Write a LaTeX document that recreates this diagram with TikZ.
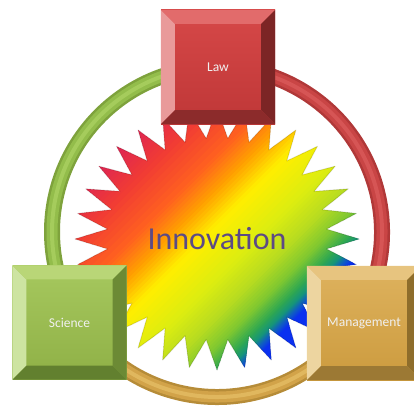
\documentclass[tikz,border=0pt]{standalone}
\usepackage{fontspec}
\setmainfont{Carlito}
\usepackage{tikz}
\usetikzlibrary{positioning}

\definecolor{lawFT}{HTML}{D64848}
\definecolor{lawFB}{HTML}{BF3737}
\definecolor{lawL}{HTML}{E99A9A}
\definecolor{lawT}{HTML}{E26B6B}
\definecolor{lawR}{HTML}{7C2525}
\definecolor{lawB}{HTML}{8C2B2B}
\definecolor{sciFT}{HTML}{A6C85E}
\definecolor{sciFB}{HTML}{8FB046}
\definecolor{sciL}{HTML}{CDE4A1}
\definecolor{sciT}{HTML}{B9D677}
\definecolor{sciR}{HTML}{6C8A35}
\definecolor{sciB}{HTML}{62802F}
\definecolor{mgtFT}{HTML}{DEB25E}
\definecolor{mgtFB}{HTML}{CC9B3E}
\definecolor{mgtL}{HTML}{EDD5A0}
\definecolor{mgtT}{HTML}{E7C47F}
\definecolor{mgtR}{HTML}{8E6D2B}
\definecolor{mgtB}{HTML}{9C7934}
\definecolor{grnDk}{HTML}{7EA23C}
\definecolor{grnMd}{HTML}{93BD4B}
\definecolor{grnLt}{HTML}{A5CC5C}
\definecolor{rdDk}{HTML}{B03838}
\definecolor{rdMd}{HTML}{C94545}
\definecolor{rdLt}{HTML}{D65555}
\definecolor{gldDk}{HTML}{B68C38}
\definecolor{gldMd}{HTML}{D2A349}
\definecolor{gldLt}{HTML}{E0B75E}
\definecolor{sCrim}{HTML}{E02850}
\definecolor{sRed}{HTML}{F03A35}
\definecolor{sOrRd}{HTML}{FF6020}
\definecolor{sOrng}{HTML}{FFA000}
\definecolor{sYel}{HTML}{FFEE00}
\definecolor{sYlLm}{HTML}{DDED10}
\definecolor{sLime}{HTML}{B8DC20}
\definecolor{sLtGr}{HTML}{80C830}
\definecolor{sGrn}{HTML}{30A850}
\definecolor{sTlGr}{HTML}{15957A}
\definecolor{sTeal}{HTML}{1060C0}
\definecolor{sBlue}{HTML}{0A30F0}
\definecolor{innov}{HTML}{5C4A85}

\begin{document}
\begin{tikzpicture}[x=1pt,y=1pt]
\tikzstyle{box}=[rectangle, minimum size=114pt, inner sep=0pt, text=white!94!black, font=\fontsize{13.5}{16}\selectfont]

\useasboundingbox (0,0) rectangle (414,408);
\coordinate (hub) at (217,176);
\coordinate (core) at (217,169);

% ring
\foreach \s/\e/\c in {90/211.5/grn, 211.5/328.2/gld, 328.2/450/rd} {
  \draw[line width=16pt, \c Dk] ([shift={(\s:165)}]hub) arc[start angle=\s, end angle=\e, radius=165];
  \draw[line width=11pt, \c Md] ([shift={(\s:165)}]hub) arc[start angle=\s, end angle=\e, radius=165];
  \draw[line width=4pt, \c Lt] ([shift={(\s:165)}]hub) arc[start angle=\s, end angle=\e, radius=165];
}

% star, rainbow in diagonal bands
\begin{scope}
\clip ([shift={(0:142 and 131)}]core) \foreach \i in {0,...,31} { -- ([shift={({\i*11.25}:142 and 131)}]core) -- ([shift={({\i*11.25+5.625}:110 and 101)}]core) } -- cycle;
\begin{scope}[transform canvas={rotate around={-45:(core)}}]
\foreach \ta/\ca/\tb/\cb in {-150/sCrim/-130/sCrim, -130/sCrim/-100/sRed, -100/sRed/-60/sOrRd, -60/sOrRd/-35/sOrng, -35/sOrng/-10/sYel, -10/sYel/28/sYlLm, 28/sYlLm/55/sLime, 55/sLime/76/sLtGr, 76/sLtGr/92/sGrn, 92/sGrn/100/sTlGr, 100/sTlGr/106/sTeal, 106/sTeal/112/sBlue, 112/sBlue/150/sBlue} {
  \foreach \j in {0,...,7} {
    \pgfmathsetmacro\pmix{100-(\j+0.5)*12.5}
    \pgfmathsetmacro\xa{\ta+(\tb-\ta)*\j/8}
    \pgfmathsetmacro\xb{\ta+(\tb-\ta)*(\j+1)/8+0.8}
    \fill[\ca!\pmix!\cb] ([shift={(\xa,-150)}]core) rectangle ([shift={(\xb,150)}]core);
  }
}
\end{scope}
\end{scope}
\draw[black, opacity=0.12, line width=1pt, line join=round] ([shift={(0:142 and 131)}]core) \foreach \i in {0,...,31} { -- ([shift={({\i*11.25}:142 and 131)}]core) -- ([shift={({\i*11.25+5.625}:110 and 101)}]core) } -- cycle;
\node[text=innov, font=\fontsize{32}{38}\selectfont] (innovation) at (core) {Innovation};

\node[box, top color=lawFT, bottom color=lawFB] (law) at (218,341) {Law};
\node[box, top color=sciFT, bottom color=sciFB] (science) at (69.5,85.5) {Science};
\node[box, top color=mgtFT, bottom color=mgtFB] (management) at (364,85) {Management};

% bevels
\foreach \bx/\c in {law/law, science/sci, management/mgt} {
  \fill[\c L] (\bx.north west) -- (\bx.south west) -- ([shift={(14,14)}]\bx.south west) -- ([shift={(14,-14)}]\bx.north west) -- cycle;
  \fill[\c T] (\bx.north west) -- (\bx.north east) -- ([shift={(-14,-14)}]\bx.north east) -- ([shift={(14,-14)}]\bx.north west) -- cycle;
  \fill[\c R] (\bx.north east) -- (\bx.south east) -- ([shift={(-14,14)}]\bx.south east) -- ([shift={(-14,-14)}]\bx.north east) -- cycle;
  \fill[\c B] (\bx.south west) -- (\bx.south east) -- ([shift={(-14,14)}]\bx.south east) -- ([shift={(14,14)}]\bx.south west) -- cycle;
}
\end{tikzpicture}
\end{document}
